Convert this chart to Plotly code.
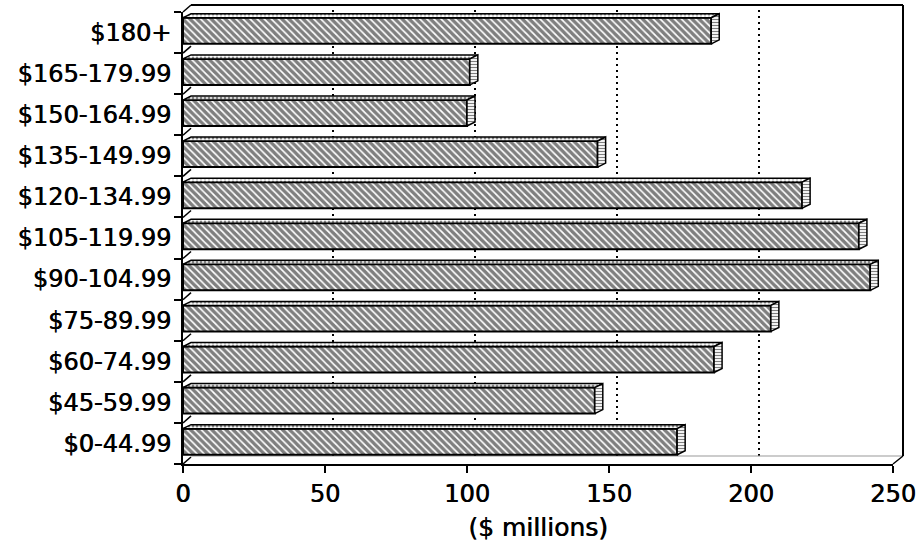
import plotly.graph_objects as go

# ---------------- data ----------------
categories = ["$0-44.99", "$45-59.99", "$60-74.99", "$75-89.99", "$90-104.99",
              "$105-119.99", "$120-134.99", "$135-149.99", "$150-164.99",
              "$165-179.99", "$180+"]
values = [174, 145, 187, 207, 242, 238, 218, 146, 100, 101, 186]
x_ticks = [0, 50, 100, 150, 200, 250]
x_title = "($ millions)"

# ---------------- geometry ----------------
W, H = 920, 546
ML, MR, MT, MB = 183, 27, 12, 82
plot_w = W - ML - MR
plot_h = H - MT - MB
x_max = x_ticks[-1]
n = len(categories)
px_x = plot_w / x_max          # px per data unit
px_y = plot_h / n              # px per category band

DEPTH_PX = 8                   # 3D depth, horizontal
BAR_DEPTH_PY = 4               # 3D depth of bars, vertical
WALL_DEPTH_PY = 7              # 3D depth of back plane, vertical
dx = DEPTH_PX / px_x
dy = BAR_DEPTH_PY / px_y

front_lo = -0.274
front_hi = 0.359

idx = list(range(n))
FONT = "DejaVu Sans"
SHADOW = "0.6px 0px 0px black"

fig = go.Figure()

# front faces
fig.add_trace(go.Bar(
    orientation="h", y=idx, x=values, base=0,
    width=front_hi - front_lo, offset=front_lo,
    marker=dict(color="white",
                line=dict(color="black", width=2),
                pattern=dict(shape="\\", fgcolor="black", bgcolor="white",
                             size=5, solidity=0.66)),
    hoverinfo="skip", showlegend=False))

# top faces
tx, ty = [], []
for i, v in zip(idx, values):
    tx += [0, v, v + dx, dx, 0, None]
    ty += [i + front_hi, i + front_hi, i + front_hi + dy, i + front_hi + dy, i + front_hi, None]
fig.add_trace(go.Scatter(
    x=tx, y=ty, mode="lines", fill="toself", fillcolor="white",
    fillpattern=dict(shape=".", fgcolor="black", bgcolor="white", size=4, solidity=0.45),
    line=dict(color="black", width=1.5),
    hoverinfo="skip", showlegend=False))

# side faces
sx, sy = [], []
for i, v in zip(idx, values):
    sx += [v, v + dx, v + dx, v, v, None]
    sy += [i + front_lo, i + front_lo + dy, i + front_hi + dy, i + front_hi, i + front_lo, None]
fig.add_trace(go.Scatter(
    x=sx, y=sy, mode="lines", fill="toself", fillcolor="white",
    fillpattern=dict(shape="-", fgcolor="black", bgcolor="white", size=3, solidity=0.4),
    line=dict(color="black", width=1.5),
    hoverinfo="skip", showlegend=False))

# left wall connectors at category boundaries
wx, wy = [], []
wall_dy = WALL_DEPTH_PY / px_y
for i in range(n):
    b = i - 0.5
    wx += [0, dx, None]
    wy += [b, b + wall_dy, None]
fig.add_trace(go.Scatter(
    x=wx, y=wy, mode="lines", line=dict(color="black", width=1.5),
    hoverinfo="skip", showlegend=False))

# back-plane gridlines and frame
floor_p = (WALL_DEPTH_PY + 1) / plot_h
top_p = 1 + WALL_DEPTH_PY / plot_h
right_p = 1 + (DEPTH_PX + 2) / plot_w
left_p = DEPTH_PX / plot_w
shapes = []
for t in x_ticks[1:-1]:
    shapes.append(dict(type="line", xref="x", yref="paper", x0=t + dx, x1=t + dx,
                       y0=floor_p, y1=top_p, layer="below",
                       line=dict(color="black", width=2, dash="2px,4px")))
shapes += [
    dict(type="line", xref="paper", yref="paper", x0=left_p, x1=right_p, y0=top_p, y1=top_p,
         line=dict(color="black", width=2)),
    dict(type="line", xref="paper", yref="paper", x0=right_p, x1=right_p, y0=top_p, y1=floor_p,
         line=dict(color="black", width=2)),
    dict(type="line", xref="paper", yref="paper", x0=1, x1=right_p, y0=0, y1=floor_p,
         line=dict(color="black", width=1.5)),
    dict(type="line", xref="paper", yref="paper", x0=0, x1=left_p, y0=1, y1=top_p,
         line=dict(color="black", width=1.5)),
    dict(type="line", xref="paper", yref="paper", x0=left_p, x1=right_p, y0=floor_p, y1=floor_p,
         layer="below", line=dict(color="#999999", width=1)),
]

fig.update_layout(
    width=W, height=H, autosize=False,
    margin=dict(l=ML, r=MR, t=MT, b=MB),
    paper_bgcolor="white", plot_bgcolor="white",
    barmode="overlay", showlegend=False,
    shapes=shapes,
    font=dict(family=FONT, color="black", size=24),
    xaxis=dict(range=[0, x_max], tickvals=x_ticks, ticktext=[str(t) for t in x_ticks],
               showgrid=False, zeroline=False, showline=True, linecolor="black", linewidth=2,
               ticks="outside", ticklen=7, tickwidth=2, tickcolor="black",
               tickfont=dict(family=FONT, size=24, color="black", shadow=SHADOW),
               title=dict(text=x_title,
                          font=dict(family=FONT, size=25, color="black", shadow=SHADOW),
                          standoff=12),
               automargin=False),
    yaxis=dict(range=[-0.5, n - 0.5], tickvals=idx, ticktext=categories,
               showgrid=False, zeroline=False, showline=True, linecolor="black", linewidth=2,
               ticks="outside", ticklen=5, tickcolor="rgba(0,0,0,0)",
               minor=dict(tickvals=[i - 0.5 for i in range(n + 1)], ticks="outside",
                          ticklen=7, tickwidth=2, tickcolor="black", showgrid=False),
               tickfont=dict(family=FONT, size=24, color="black", shadow=SHADOW),
               automargin=False),
)

fig.write_html(
    "out.html",
    config={"displayModeBar": False},
    post_script="document.body.style.margin='0';document.body.style.overflow='hidden';",
)
